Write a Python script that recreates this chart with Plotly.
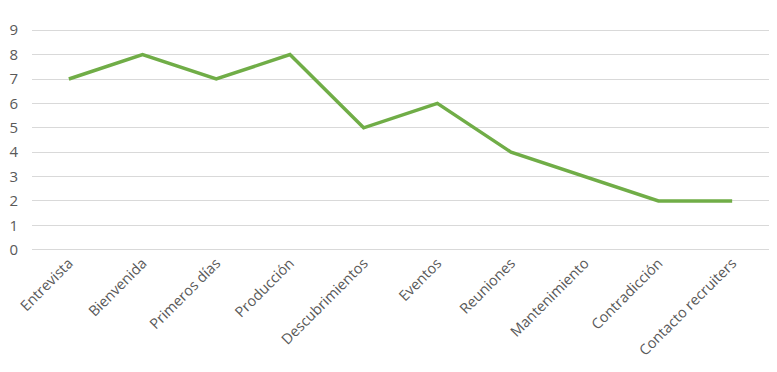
import plotly.graph_objects as go

categories = ["Entrevista", "Bienvenida", "Primeros días", "Producción", "Descubrimientos",
              "Eventos", "Reuniones", "Mantenimiento", "Contradicción", "Contacto recruiters"]
values = [7, 8, 7, 8, 5, 6, 4, 3, 2, 2]
y_ticks = list(range(0, 10))

fig = go.Figure()
fig.add_trace(go.Scatter(x=categories, y=values, mode="lines",
                         line=dict(color="#70AD47", width=3.5), hoverinfo="x+y"))

fig.update_layout(
    width=769, height=364,
    margin=dict(l=24, r=8, t=21, b=121),
    paper_bgcolor="white", plot_bgcolor="white",
    font=dict(family="Open Sans", size=14, color="#595959"),
    showlegend=False,
    xaxis=dict(type="category", range=[-0.5, len(categories) - 0.5], tickangle=-45,
               showgrid=False, showline=False, automargin=False,
               zeroline=False, ticks="", tickfont=dict(size=14.5, color="#595959")),
    yaxis=dict(range=[-0.05, 9.05], tickvals=y_ticks, showgrid=True, gridcolor="#D9D9D9",
               gridwidth=1, zeroline=False, showline=False, ticks="", automargin=False,
               ticklabelstandoff=13, tickfont=dict(size=15, color="#595959")),
)
fig.write_html("out.html")
